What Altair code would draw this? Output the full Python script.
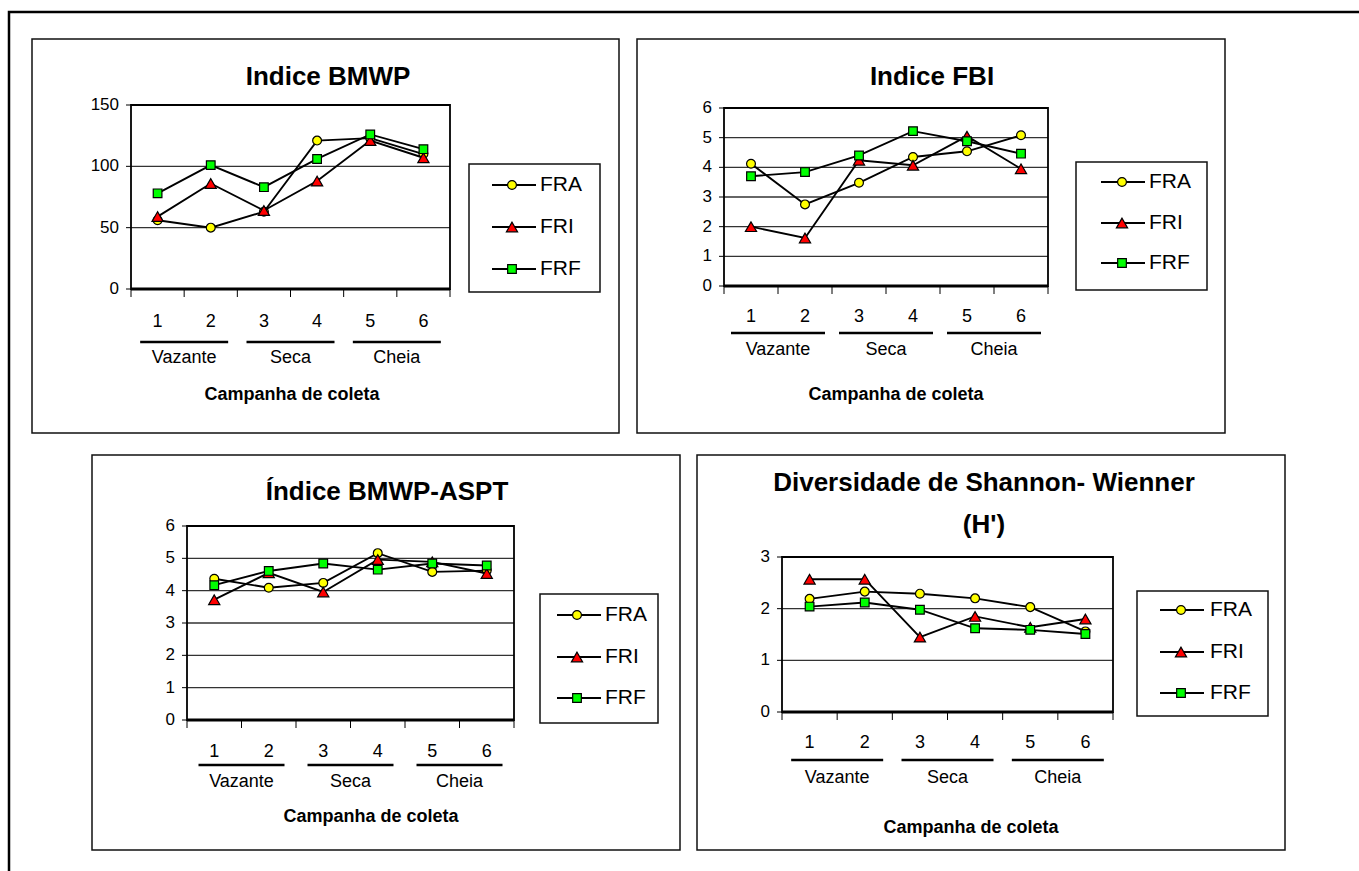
import altair as alt
import pandas as pd

# ---------------- data ----------------
campaigns = [1, 2, 3, 4, 5, 6]
campaign_labels = ["1", "2", "3", "4", "5", "6"]
seasons = ["Vazante", "Vazante", "Seca", "Seca", "Cheia", "Cheia"]
series_names = ["FRA", "FRI", "FRF"]
x_title = "Campanha de coleta"

bmwp_title = ["Indice BMWP"]
bmwp_ticks = [0, 50, 100, 150]
bmwp_fra = [56, 50, 63, 121, 123, 110]
bmwp_fri = [59, 86, 64, 88, 121, 107]
bmwp_frf = [78, 101, 83, 106, 126, 114]

fbi_title = ["Indice FBI"]
fbi_ticks = [0, 1, 2, 3, 4, 5, 6]
fbi_fra = [4.12, 2.75, 3.48, 4.35, 4.54, 5.08]
fbi_fri = [2.0, 1.62, 4.24, 4.07, 5.05, 3.95]
fbi_frf = [3.70, 3.84, 4.40, 5.22, 4.88, 4.46]

aspt_title = ["Índice BMWP-ASPT"]
aspt_ticks = [0, 1, 2, 3, 4, 5, 6]
aspt_fra = [4.37, 4.09, 4.24, 5.16, 4.58, 4.62]
aspt_fri = [3.72, 4.55, 3.96, 4.96, 4.89, 4.53]
aspt_frf = [4.17, 4.61, 4.84, 4.65, 4.84, 4.78]

shannon_title = ["Diversidade de Shannon- Wienner", "(H')"]
shannon_ticks = [0, 1, 2, 3]
shannon_fra = [2.19, 2.33, 2.29, 2.20, 2.03, 1.56]
shannon_fri = [2.57, 2.57, 1.45, 1.85, 1.64, 1.80]
shannon_frf = [2.04, 2.12, 1.98, 1.62, 1.59, 1.51]

# ---------------- styles ----------------
FONT = "Liberation Sans Narrow, Arial Narrow, Liberation Sans, Arial, sans-serif"
STYLE = {
    "FRA": dict(shape="circle", fill="#FFFF00", size=78),
    "FRI": dict(shape="triangle-up", fill="#FF0000", size=125),
    "FRF": dict(shape="square", fill="#00FF00", size=75),
}

PANELS = [
    dict(box=(32, 39, 619, 433), plot=(131, 105, 450, 289), title_xy=(328, 77),
         cat_y=322, gline_y=342, glabel_y=358, xtitle_xy=(292, 395), ghalf=44,
         leg_box=(469, 164, 600, 292), leg_rows=(185, 227, 269), leg_line=(492, 536),
         leg_mark=512, leg_text=540),
    dict(box=(637, 39, 1225, 433), plot=(724, 108, 1048, 286), title_xy=(932, 77),
         cat_y=317, gline_y=333, glabel_y=350, xtitle_xy=(896, 395), ghalf=47,
         leg_box=(1076, 162, 1207, 290), leg_rows=(182, 223, 263), leg_line=(1101, 1145),
         leg_mark=1122, leg_text=1149),
    dict(box=(92, 455, 680, 850), plot=(187, 526, 514, 720), title_xy=(387, 492),
         cat_y=752, gline_y=765, glabel_y=782, xtitle_xy=(371, 817), ghalf=43,
         leg_box=(540, 594, 658, 723), leg_rows=(615, 657, 698), leg_line=(557, 601),
         leg_mark=577, leg_text=605),
    dict(box=(697, 455, 1285, 850), plot=(782, 557, 1113, 712), title_xy=(984, 483),
         cat_y=743, gline_y=760, glabel_y=778, xtitle_xy=(971, 828), ghalf=46,
         leg_box=(1137, 591, 1268, 716), leg_rows=(610, 652, 693), leg_line=(1160, 1204),
         leg_mark=1181, leg_text=1210),
]


def one_row(text=""):
    return pd.DataFrame({"t": [text]})


def make_panel(cfg, title_lines, ticks, series_values):
    L, T, R, B = cfg["plot"]
    xs = alt.Scale(domain=[0.5, 6.5], range=[L, R], nice=False, zero=False)
    ys = alt.Scale(domain=[0, ticks[-1]], range=[B, T], nice=False, zero=False)

    def X(f):
        return alt.X(f, scale=xs, axis=None)

    def Y(f):
        return alt.Y(f, scale=ys, axis=None)

    layers = []
    bx0, by0, bx1, by1 = cfg["box"]
    layers.append(
        alt.Chart(one_row()).mark_rect(fill="white", stroke="#111", strokeWidth=1.5).encode(
            x=alt.value(bx0), x2=alt.value(bx1), y=alt.value(by0), y2=alt.value(by1))
    )

    tdf = pd.DataFrame({"tick": ticks, "label": [str(t) for t in ticks]})
    # gridlines
    layers.append(
        alt.Chart(tdf).mark_rule(color="#333", strokeWidth=1.3).encode(
            y=Y("tick:Q"), x=alt.value(L), x2=alt.value(R))
    )
    # plot frame
    layers.append(
        alt.Chart(one_row()).mark_rect(fillOpacity=0, stroke="#000", strokeWidth=1.8).encode(
            x=alt.value(L), x2=alt.value(R), y=alt.value(T), y2=alt.value(B))
    )
    # y ticks
    layers.append(
        alt.Chart(tdf).mark_rule(color="#000", strokeWidth=1).encode(
            y=Y("tick:Q"), x=alt.value(L - 5), x2=alt.value(L))
    )
    # y labels
    layers.append(
        alt.Chart(tdf).mark_text(align="right", baseline="middle", font=FONT, fontSize=17,
                                 color="#000").encode(
            y=Y("tick:Q"), x=alt.value(L - 12), text="label:N")
    )
    # x axis line
    layers.append(
        alt.Chart(one_row()).mark_rule(color="#000", strokeWidth=3).encode(
            y=alt.value(B), x=alt.value(L), x2=alt.value(R))
    )
    # x boundary ticks
    bdf = pd.DataFrame({"b": [c - 0.5 for c in campaigns] + [campaigns[-1] + 0.5]})
    layers.append(
        alt.Chart(bdf).mark_rule(color="#000", strokeWidth=1).encode(
            x=X("b:Q"), y=alt.value(B), y2=alt.value(B + 8))
    )
    cdf = pd.DataFrame({"campaign": campaigns, "label": campaign_labels, "season": seasons})
    # category labels
    layers.append(
        alt.Chart(cdf).mark_text(align="center", baseline="middle", font=FONT, fontSize=18,
                                 color="#000").encode(
            x=X("campaign:Q"), y=alt.value(cfg["cat_y"]), text="label:N")
    )
    # season group lines
    h = cfg["ghalf"]
    layers.append(
        alt.Chart(cdf).transform_aggregate(center="mean(campaign)", groupby=["season"])
        .mark_rule(color="#000", strokeWidth=2.5, xOffset=-h, x2Offset=h)
        .encode(x=X("center:Q"), x2=alt.X2("center:Q"), y=alt.value(cfg["gline_y"]))
    )
    # season labels
    layers.append(
        alt.Chart(cdf).transform_aggregate(center="mean(campaign)", groupby=["season"])
        .mark_text(align="center", baseline="middle", font=FONT, fontSize=18, color="#000")
        .encode(x=X("center:Q"), y=alt.value(cfg["glabel_y"]), text="season:N")
    )
    # x title
    layers.append(
        alt.Chart(one_row(x_title)).mark_text(align="center", baseline="middle", font=FONT,
                                             fontSize=18, fontWeight="bold", color="#000")
        .encode(x=alt.value(cfg["xtitle_xy"][0]), y=alt.value(cfg["xtitle_xy"][1]), text="t:N")
    )
    # chart title (one text per line)
    tx, ty = cfg["title_xy"]
    for i, line in enumerate(title_lines):
        layers.append(
            alt.Chart(one_row(line)).mark_text(align="center", baseline="middle", font=FONT,
                                               fontSize=26, fontWeight="bold", color="#000")
            .encode(x=alt.value(tx), y=alt.value(ty + 42 * i), text="t:N")
        )
    # series
    for name, vals in zip(series_names, series_values):
        sdf = pd.DataFrame({"campaign": campaigns, "value": vals, "series": name})
        st = STYLE[name]
        layers.append(
            alt.Chart(sdf).mark_line(color="#000", strokeWidth=1.9).encode(
                x=X("campaign:Q"), y=Y("value:Q"))
        )
        layers.append(
            alt.Chart(sdf).mark_point(shape=st["shape"], filled=True, fill=st["fill"],
                                      stroke="#000", strokeWidth=1.2, size=st["size"], opacity=1)
            .encode(x=X("campaign:Q"), y=Y("value:Q"))
        )
    # legend
    lx0, ly0, lx1, ly1 = cfg["leg_box"]
    layers.append(
        alt.Chart(one_row()).mark_rect(fill="white", stroke="#111", strokeWidth=1.5).encode(
            x=alt.value(lx0), x2=alt.value(lx1), y=alt.value(ly0), y2=alt.value(ly1))
    )
    for name, ry in zip(series_names, cfg["leg_rows"]):
        st = STYLE[name]
        layers.append(
            alt.Chart(one_row(name)).mark_rule(color="#000", strokeWidth=2).encode(
                x=alt.value(cfg["leg_line"][0]), x2=alt.value(cfg["leg_line"][1]),
                y=alt.value(ry))
        )
        layers.append(
            alt.Chart(one_row(name)).mark_point(shape=st["shape"], filled=True, fill=st["fill"],
                                                stroke="#000", strokeWidth=1.2, size=st["size"],
                                                opacity=1)
            .encode(x=alt.value(cfg["leg_mark"]), y=alt.value(ry))
        )
        layers.append(
            alt.Chart(one_row(name)).mark_text(align="left", baseline="middle", font=FONT,
                                               fontSize=21, color="#000")
            .encode(x=alt.value(cfg["leg_text"]), y=alt.value(ry), text="t:N")
        )
    return alt.layer(*layers)


outer = alt.Chart(one_row()).mark_rect(fillOpacity=0, stroke="#000", strokeWidth=2.5).encode(
    x=alt.value(9), x2=alt.value(1400), y=alt.value(12), y2=alt.value(900))

p1 = make_panel(PANELS[0], bmwp_title, bmwp_ticks, [bmwp_fra, bmwp_fri, bmwp_frf])
p2 = make_panel(PANELS[1], fbi_title, fbi_ticks, [fbi_fra, fbi_fri, fbi_frf])
p3 = make_panel(PANELS[2], aspt_title, aspt_ticks, [aspt_fra, aspt_fri, aspt_frf])
p4 = make_panel(PANELS[3], shannon_title, shannon_ticks, [shannon_fra, shannon_fri, shannon_frf])

chart = (
    alt.layer(outer, p1, p2, p3, p4)
    .resolve_scale(x="independent", y="independent")
    .properties(width=1359, height=871, autosize=alt.AutoSizeParams(type="none"), padding=0)
    .configure(background="white")
    .configure_view(strokeWidth=0)
)

chart.save("out.html", embed_options={"renderer": "svg", "actions": False})
